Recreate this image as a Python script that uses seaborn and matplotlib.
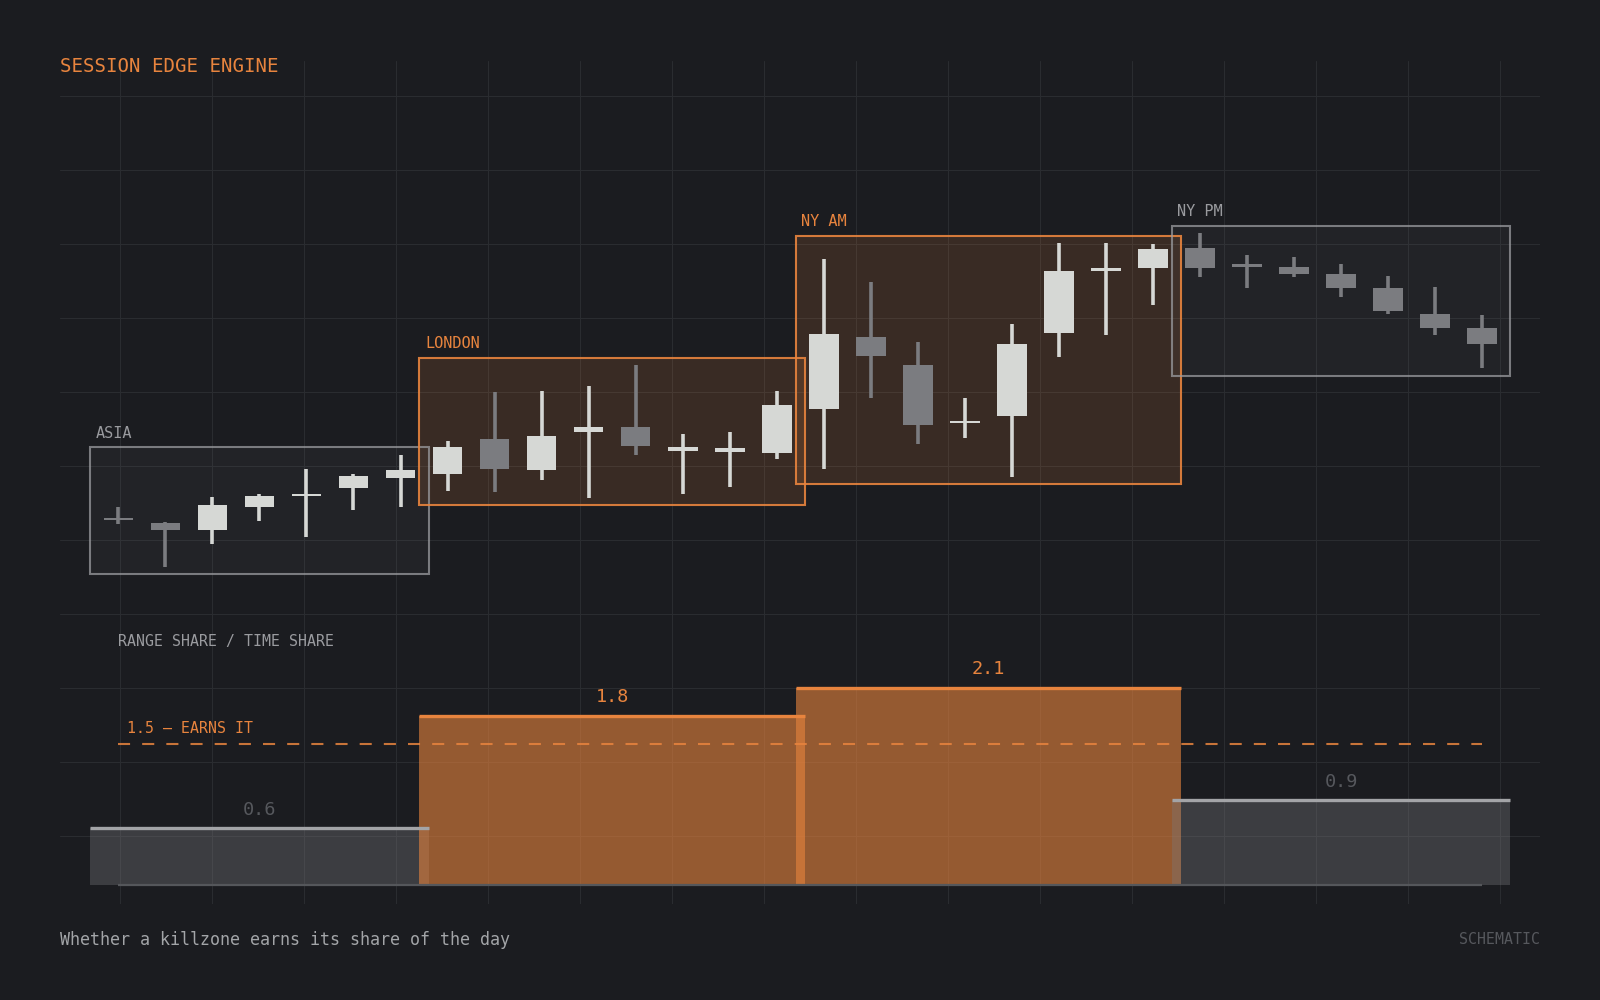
import numpy as np
import matplotlib
matplotlib.use("Agg")
import matplotlib.pyplot as plt
import seaborn as sns
from matplotlib.patches import Rectangle

# palette
BG = "#1b1c20"
GRID = "#2a2c30"
ORANGE = "#e8843e"
LIGHT = "#d6d8d5"
GRAY = "#7b7c80"
MUTED = "#9a9b9f"
DIM = "#56585d"

# session data
sessions = ["ASIA", "LONDON", "NY AM", "NY PM"]
session_sizes = [7, 8, 8, 7]
session_hot = [False, True, True, False]
range_time_ratio = [0.6, 1.8, 2.1, 0.9]
threshold = 1.5

# schematic price path (one candle per slot)
opens = [103.0, 102.3, 101.4, 104.4, 105.9, 107.0, 108.4,
         108.9, 113.6, 109.4, 114.6, 115.3, 112.0, 111.9, 111.8,
         117.7, 127.4, 123.7, 115.8, 116.7, 128.0, 136.3, 136.8,
         139.4, 137.3, 136.9, 135.9, 134.0, 130.5, 128.7]
closes = [102.7, 101.3, 104.7, 105.9, 106.2, 108.6, 109.5,
          112.5, 109.6, 114.1, 115.3, 112.7, 112.5, 112.4, 118.2,
          127.8, 124.9, 115.6, 116.1, 126.5, 136.3, 136.7, 139.3,
          136.7, 136.9, 136.0, 134.1, 131.0, 128.7, 126.5]
highs = [104.5, 102.4, 105.8, 106.2, 109.6, 108.9, 111.5,
         113.4, 120.0, 120.1, 120.8, 123.6, 114.3, 114.6, 120.1,
         138.0, 134.8, 126.7, 119.2, 129.2, 140.1, 140.1, 140.0,
         141.5, 138.5, 138.2, 137.3, 135.7, 134.2, 130.4]
lows = [102.2, 96.4, 99.4, 102.5, 100.4, 104.1, 104.4,
        106.6, 106.5, 108.1, 105.7, 111.5, 106.2, 107.2, 110.9,
        109.6, 119.2, 113.0, 113.8, 108.5, 124.7, 127.7, 131.7,
        135.6, 134.0, 135.5, 132.8, 130.6, 127.7, 123.2]

sns.set_theme(style="dark", rc={
    "figure.facecolor": BG,
    "axes.facecolor": "none",
    "savefig.facecolor": BG,
})
plt.rcParams["font.family"] = ["DejaVu Sans Mono", "DejaVu Sans"]

fig = plt.figure(figsize=(16, 10), dpi=100)
rect = [60 / 1600, 1 - 904 / 1000, 1480 / 1600, 843 / 1000]

# background grid (pixel space)
ax_bg = fig.add_axes(rect, zorder=0)
ax_bg.set_xlim(60, 1540)
ax_bg.set_ylim(904, 61)
ax_bg.set_xticks(120.4 + 92 * np.arange(16))
ax_bg.set_yticks(96 + 74 * np.arange(11))
ax_bg.grid(True, color=GRID, linewidth=0.8)
ax_bg.tick_params(length=0, labelbottom=False, labelleft=False)
for s in ax_bg.spines.values():
    s.set_visible(False)

# shared x: candle slot index
xlim = (-1.241, 30.23)

# bottom bars: range share / time share
ax_bar = fig.add_axes(rect, zorder=1)
ax_bar.set_xlim(*xlim)
ax_bar.set_ylim(-0.206, 8.791)
ax_bar.axis("off")

# candles
ax = fig.add_axes(rect, zorder=2)
ax.set_xlim(*xlim)
ax.set_ylim(50.81, 164.73)
ax.axis("off")

o = np.array(opens)
c = np.array(closes)
h = np.array(highs)
l = np.array(lows)
x = np.arange(len(o))
up = c >= o
colors = np.where(up, LIGHT, GRAY)

starts = np.concatenate([[0], np.cumsum(session_sizes)[:-1]])
pad_x, pad_y = 0.6, 1.0
for name, st, n, hot, val in zip(sessions, starts, session_sizes,
                                  session_hot, range_time_ratio):
    x0, x1 = st - pad_x, st + n - 1 + pad_x
    top = h[st:st + n].max() + pad_y
    bot = l[st:st + n].min() - pad_y
    col = ORANGE if hot else MUTED
    ax.add_patch(Rectangle((x0, bot), x1 - x0, top - bot,
                           facecolor=ORANGE if hot else LIGHT,
                           alpha=0.15 if hot else 0.04,
                           edgecolor="none", zorder=1))
    ax.add_patch(Rectangle((x0, bot), x1 - x0, top - bot,
                           facecolor="none", edgecolor=col,
                           alpha=0.9 if hot else 0.75,
                           linewidth=1.5, zorder=2))
    ax.annotate(name, (x0, top), xytext=(4, 7), textcoords="offset points",
                color=ORANGE if hot else MUTED, fontsize=11,
                ha="left", va="baseline")

    # bar below
    ax_bar.bar(x0, val, width=x1 - x0, align="edge",
               color=ORANGE if hot else GRAY,
               alpha=0.6 if hot else 0.35, linewidth=0, zorder=1)
    ax_bar.hlines(val, x0, x1, color=ORANGE if hot else "#a3a4a7",
                  linewidth=2.4, zorder=2)
    ax_bar.annotate(f"{val:.1f}", ((x0 + x1) / 2, val), xytext=(0, 13.5),
                    textcoords="offset points", ha="center", va="center",
                    fontsize=13.3, color=ORANGE if hot else DIM)

ax.vlines(x, l, h, color=colors, linewidth=2.6, zorder=3)
ax.bar(x, np.abs(c - o), bottom=np.minimum(o, c), width=0.63,
       color=colors, linewidth=0, zorder=4)

# baseline + threshold
ax_bar.hlines(0, 0, len(o) - 1, color="#55575b", linewidth=1.6, zorder=3)
ax_bar.hlines(threshold, 0, len(o) - 1, color=ORANGE, alpha=0.85,
              linewidth=1.5, linestyles=(0, (5.8, 5.8)), zorder=3)
ax_bar.annotate(f"{threshold} — EARNS IT", (0, threshold), xytext=(6, 8),
                textcoords="offset points", ha="left", va="baseline",
                fontsize=10.7, color=ORANGE)
ax_bar.text(0, 2.6, "RANGE SHARE / TIME SHARE", ha="left", va="center",
            fontsize=10.7, color=MUTED)

# titles / footer
fig.text(60 / 1600, 1 - 67 / 1000, "SESSION EDGE ENGINE", color=ORANGE,
         fontsize=13.7, ha="left", va="center")
fig.text(60 / 1600, 1 - 940 / 1000,
         "Whether a killzone earns its share of the day", color="#a3a5a8",
         fontsize=12, ha="left", va="center")
fig.text(1540 / 1600, 1 - 940 / 1000, "SCHEMATIC", color=DIM,
         fontsize=10.7, ha="right", va="center")

fig.savefig("out.png", dpi=100, facecolor=BG)
